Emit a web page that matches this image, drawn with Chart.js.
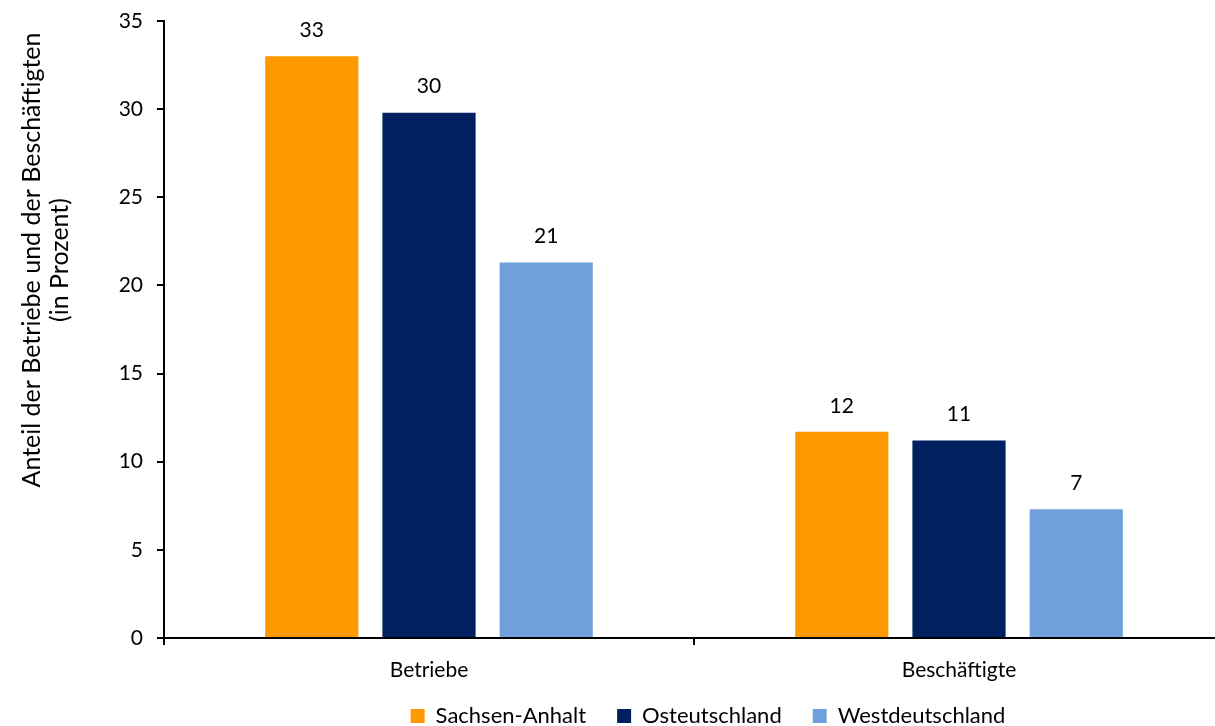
<!DOCTYPE html>
<html>
<head>
<meta charset="utf-8">
<script src="https://cdn.jsdelivr.net/npm/chart.js@4.4.0/dist/chart.umd.min.js"></script>
<style>
    html, body { margin: 0; padding: 0; background: #fff; overflow: hidden; }
    #wrap { width: 1215px; height: 726px; overflow: hidden; }
</style>
</head>
<body>
<div id="wrap"><canvas id="chart" width="1224" height="746"></canvas></div>
<script>
// Anteil der Betriebe und Beschäftigten (in Prozent)
const categories = ['Betriebe', 'Beschäftigte'];
const sachsenAnhalt = [33.0, 11.7];
const ostdeutschland = [29.8, 11.2];
const westdeutschland = [21.3, 7.3];
const seriesNames = ['Sachsen-Anhalt', 'Osteutschland', 'Westdeutschland'];
const yTicks = [0, 5, 10, 15, 20, 25, 30, 35];
const yTitle = ['Anteil der Betriebe und der Beschäftigten', '(in Prozent)'];

const FONT = 'Lato, "Open Sans", sans-serif';

// draws the rounded value above each bar
const valueLabels = {
    id: 'valueLabels',
    afterDatasetsDraw(chart) {
        const ctx = chart.ctx;
        ctx.save();
        ctx.font = '21px ' + FONT;
        ctx.fillStyle = '#000';
        ctx.textAlign = 'center';
        ctx.textBaseline = 'middle';
        chart.data.datasets.forEach((ds, i) => {
            chart.getDatasetMeta(i).data.forEach((bar, j) => {
                ctx.fillText(Math.round(ds.data[j]), bar.x, bar.y - 26);
            });
        });
        ctx.restore();
    }
};

// y axis title, placed a bit above the plot centre like the original
const sideTitle = {
    id: 'sideTitle',
    afterDraw(chart) {
        const ctx = chart.ctx;
        ctx.save();
        ctx.font = '25px ' + FONT;
        ctx.fillStyle = '#000';
        ctx.textAlign = 'center';
        ctx.textBaseline = 'middle';
        ctx.translate(0, 260);
        ctx.rotate(-Math.PI / 2);
        yTitle.forEach((line, i) => {
            ctx.fillText(line, 0, 32 + i * 28);
        });
        ctx.restore();
    }
};

// legend in the original sits centred under the plot and close to the axis labels
const legendShift = {
    id: 'legendShift',
    afterLayout(chart) {
        const lg = chart.legend;
        lg.left += 96;
        lg.right += 96;
        lg.top -= 9;
        lg.bottom -= 9;
    }
};

new Chart(document.getElementById('chart'), {
    type: 'bar',
    data: {
        labels: categories,
        datasets: [
            { label: seriesNames[0], data: sachsenAnhalt, backgroundColor: '#FF9900' },
            { label: seriesNames[1], data: ostdeutschland, backgroundColor: '#002060' },
            { label: seriesNames[2], data: westdeutschland, backgroundColor: '#6FA0DC' }
        ]
    },
    options: {
        responsive: false,
        animation: false,
        layout: { padding: { top: 21, right: 0, bottom: 0, left: 0 } },
        datasets: {
            bar: { barPercentage: 0.795, categoryPercentage: 0.6635 }
        },
        plugins: {
            legend: {
                position: 'bottom',
                labels: {
                    color: '#000',
                    font: { family: FONT, size: 22 },
                    boxWidth: 14,
                    boxHeight: 14,
                    padding: 31
                }
            },
            tooltip: { enabled: false }
        },
        scales: {
            x: {
                grid: {
                    offset: true,
                    drawOnChartArea: false,
                    color: '#000',
                    lineWidth: 2,
                    tickLength: 7
                },
                border: { color: '#000', width: 2 },
                ticks: {
                    color: '#000',
                    font: { family: FONT, size: 21 },
                    padding: 13
                },
                afterFit(scale) {
                    scale.height = 45;
                    scale.paddingLeft = 0;
                    scale.paddingRight = 0;
                }
            },
            y: {
                min: 0,
                max: 35,
                afterBuildTicks(scale) {
                    scale.ticks = yTicks.map(v => ({ value: v }));
                },
                grid: {
                    drawOnChartArea: false,
                    color: '#000',
                    lineWidth: 2,
                    tickLength: 7
                },
                border: { color: '#000', width: 2 },
                ticks: {
                    color: '#000',
                    font: { family: FONT, size: 21 },
                    padding: 14
                },
                afterFit(scale) {
                    scale.width = 164;
                    scale.paddingTop = 0;
                    scale.paddingBottom = 0;
                }
            }
        }
    },
    plugins: [valueLabels, sideTitle, legendShift]
});
</script>
</body>
</html>
